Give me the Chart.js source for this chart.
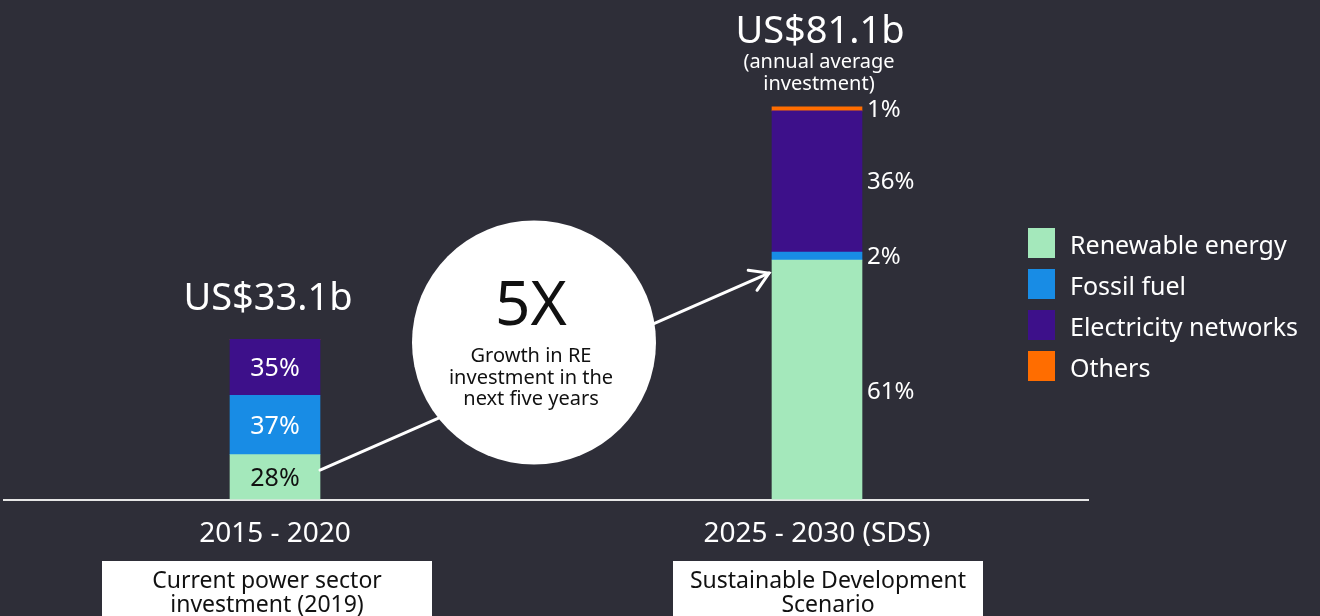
<!DOCTYPE html>
<html><head><meta charset="utf-8">
<script src="https://cdn.jsdelivr.net/npm/chart.js@4/dist/chart.umd.min.js"></script>
<style>html,body{margin:0;padding:0;background:#2e2e38;overflow:hidden}#wrap{width:1320px;height:616px;position:relative}</style>
</head><body><div id="wrap"><canvas id="c" width="1320" height="616"></canvas></div>
<script>
// ---- data ----
const categories = ['2015 - 2020', '2025 - 2030 (SDS)'];
const seriesNames = ['Renewable energy', 'Fossil fuel', 'Electricity networks', 'Others'];
const renewable = [9.27, 49.47];
const fossil = [12.25, 1.62];
const networks = [11.59, 29.20];
const others = [0, 0.81];
const renewableLabels = ['28%', '61%'];
const fossilLabels = ['37%', '2%'];
const networksLabels = ['35%', '36%'];
const othersLabels = ['', '1%'];
const totalLabels = ['US$33.1b', 'US$81.1b'];
const totalNotes = [[], ['(annual average', 'investment)']];
const scenarioLabels = [['Current power sector', 'investment (2019)'], ['Sustainable Development', 'Scenario']];
const calloutValue = '5X';
const calloutText = ['Growth in RE', 'investment in the', 'next five years'];

// ---- style ----
const FONT = '"Noto Sans", "DejaVu Sans", sans-serif';
const BG = '#2e2e38';
const colors = ['#a4e8bb', '#188ce5', '#3d108a', '#ff6d00'];
const seriesValues = [renewable, fossil, networks, others];
const seriesLabels = [renewableLabels, fossilLabels, networksLabels, othersLabels];

const deco = {
  id: 'deco',
  beforeDraw(chart) {
    const ctx = chart.ctx;
    ctx.save();
    ctx.fillStyle = BG;
    ctx.fillRect(0, 0, chart.width, chart.height);
    ctx.restore();
  },
  afterDraw(chart) {
    const ctx = chart.ctx;
    const metas = chart.data.datasets.map((d, i) => chart.getDatasetMeta(i));
    const bar = (di, ci) => metas[di].data[ci].getProps(['x', 'y', 'base', 'width'], true);
    ctx.save();

    // arrow from bar 1 to bar 2
    const g1 = bar(0, 0), g2 = bar(0, 1);
    const sx = g1.x + g1.width / 2, sy = (g1.y + g1.base) / 2 - 7;
    const ex = g2.x - g2.width / 2 - 3, ey = g2.y + 13;
    ctx.strokeStyle = '#ffffff';
    ctx.lineWidth = 3;
    ctx.lineCap = 'round';
    ctx.beginPath(); ctx.moveTo(sx, sy); ctx.lineTo(ex, ey); ctx.stroke();
    const ang = Math.atan2(ey - sy, ex - sx);
    const hl = 21;
    ctx.beginPath();
    ctx.moveTo(ex - hl * Math.cos(ang - 0.55), ey - hl * Math.sin(ang - 0.55));
    ctx.lineTo(ex, ey);
    ctx.lineTo(ex - hl * Math.cos(ang + 0.55), ey - hl * Math.sin(ang + 0.55));
    ctx.stroke();

    // callout circle
    const cx = (g1.x + g2.x) / 2 - 12, cy = chart.chartArea.bottom - 157;
    ctx.fillStyle = '#ffffff';
    ctx.beginPath(); ctx.arc(cx, cy, 122, 0, Math.PI * 2); ctx.fill();
    ctx.fillStyle = '#111111';
    ctx.textAlign = 'center';
    ctx.textBaseline = 'middle';
    ctx.font = '62px ' + FONT;
    ctx.fillText(calloutValue, cx - 3, cy - 35);
    ctx.font = '20px ' + FONT;
    calloutText.forEach((t, i) => ctx.fillText(t, cx - 3, cy + 14 + i * 21.5));

    // segment labels
    seriesLabels.forEach((labs, di) => {
      labs.forEach((txt, ci) => {
        if (!txt) return;
        const b = bar(di, ci);
        let my = (b.y + b.base) / 2;
        if (ci === 0) {
          ctx.font = '25px ' + FONT;
          ctx.textAlign = 'center';
          ctx.fillStyle = di === 0 ? '#111111' : '#ffffff';
          ctx.fillText(txt, b.x, my + 2);
        } else {
          if (b.base - b.y > 200) my += 11;
          ctx.font = '24px ' + FONT;
          ctx.textAlign = 'left';
          ctx.fillStyle = '#ffffff';
          ctx.fillText(txt, b.x + b.width / 2 + 5, my + 1);
        }
      });
    });

    // totals above bars
    categories.forEach((c, ci) => {
      const top = bar(3, ci).y;
      const x = bar(0, ci).x;
      const notes = totalNotes[ci];
      ctx.fillStyle = '#ffffff';
      ctx.textAlign = 'center';
      let titleY = top - 40;
      if (notes.length) {
        ctx.font = '20px ' + FONT;
        notes.forEach((n, i) => {
          const yy = top - 23 - (notes.length - 1 - i) * 22;
          ctx.fillText(n, x + 2, yy);
        });
        titleY = top - 23 - (notes.length - 1) * 22 - 30;
      }
      ctx.font = '38px ' + FONT;
      ctx.fillText(totalLabels[ci], x - 7 + ci * 10, titleY);
    });

    // scenario boxes
    const boxes = [{ dx: -173, w: 330, tx: -8 }, { dx: -144, w: 310, tx: 11 }];
    categories.forEach((c, ci) => {
      const x = bar(0, ci).x;
      const bx = boxes[ci];
      ctx.fillStyle = '#ffffff';
      ctx.fillRect(x + bx.dx, 561, bx.w, 60);
      ctx.fillStyle = '#111111';
      ctx.font = '23px ' + FONT;
      ctx.textAlign = 'center';
      scenarioLabels[ci].forEach((t, i) => ctx.fillText(t, x + bx.tx, 581 + i * 24));
    });

    // legend
    seriesNames.forEach((n, i) => {
      const y0 = 228 + i * 41;
      ctx.fillStyle = colors[i];
      ctx.fillRect(1028, y0, 27, 30);
      ctx.fillStyle = '#ffffff';
      ctx.font = '25px ' + FONT;
      ctx.textAlign = 'left';
      ctx.fillText(n, 1070, y0 + 19);
    });
    ctx.restore();
  }
};

new Chart(document.getElementById('c'), {
  type: 'bar',
  data: {
    labels: categories,
    datasets: seriesNames.map((name, i) => ({
      label: name,
      data: seriesValues[i],
      backgroundColor: colors[i],
      borderWidth: 0,
      barThickness: 90
    }))
  },
  options: {
    responsive: false,
    animation: false,
    devicePixelRatio: 1,
    layout: { padding: { left: 4, right: 232, top: 14, bottom: 0 } },
    plugins: { legend: { display: false }, tooltip: { enabled: false } },
    scales: {
      x: {
        stacked: true,
        grid: { display: false, drawTicks: false },
        border: { display: true, color: '#e6e6e6', width: 2 },
        ticks: { color: '#ffffff', font: { family: FONT, size: 28 }, padding: 18 },
        afterFit: (s) => { s.height = 116.5; }
      },
      y: { stacked: true, display: false, min: 0, max: 100.3 }
    }
  },
  plugins: [deco]
});
</script>
</body></html>
